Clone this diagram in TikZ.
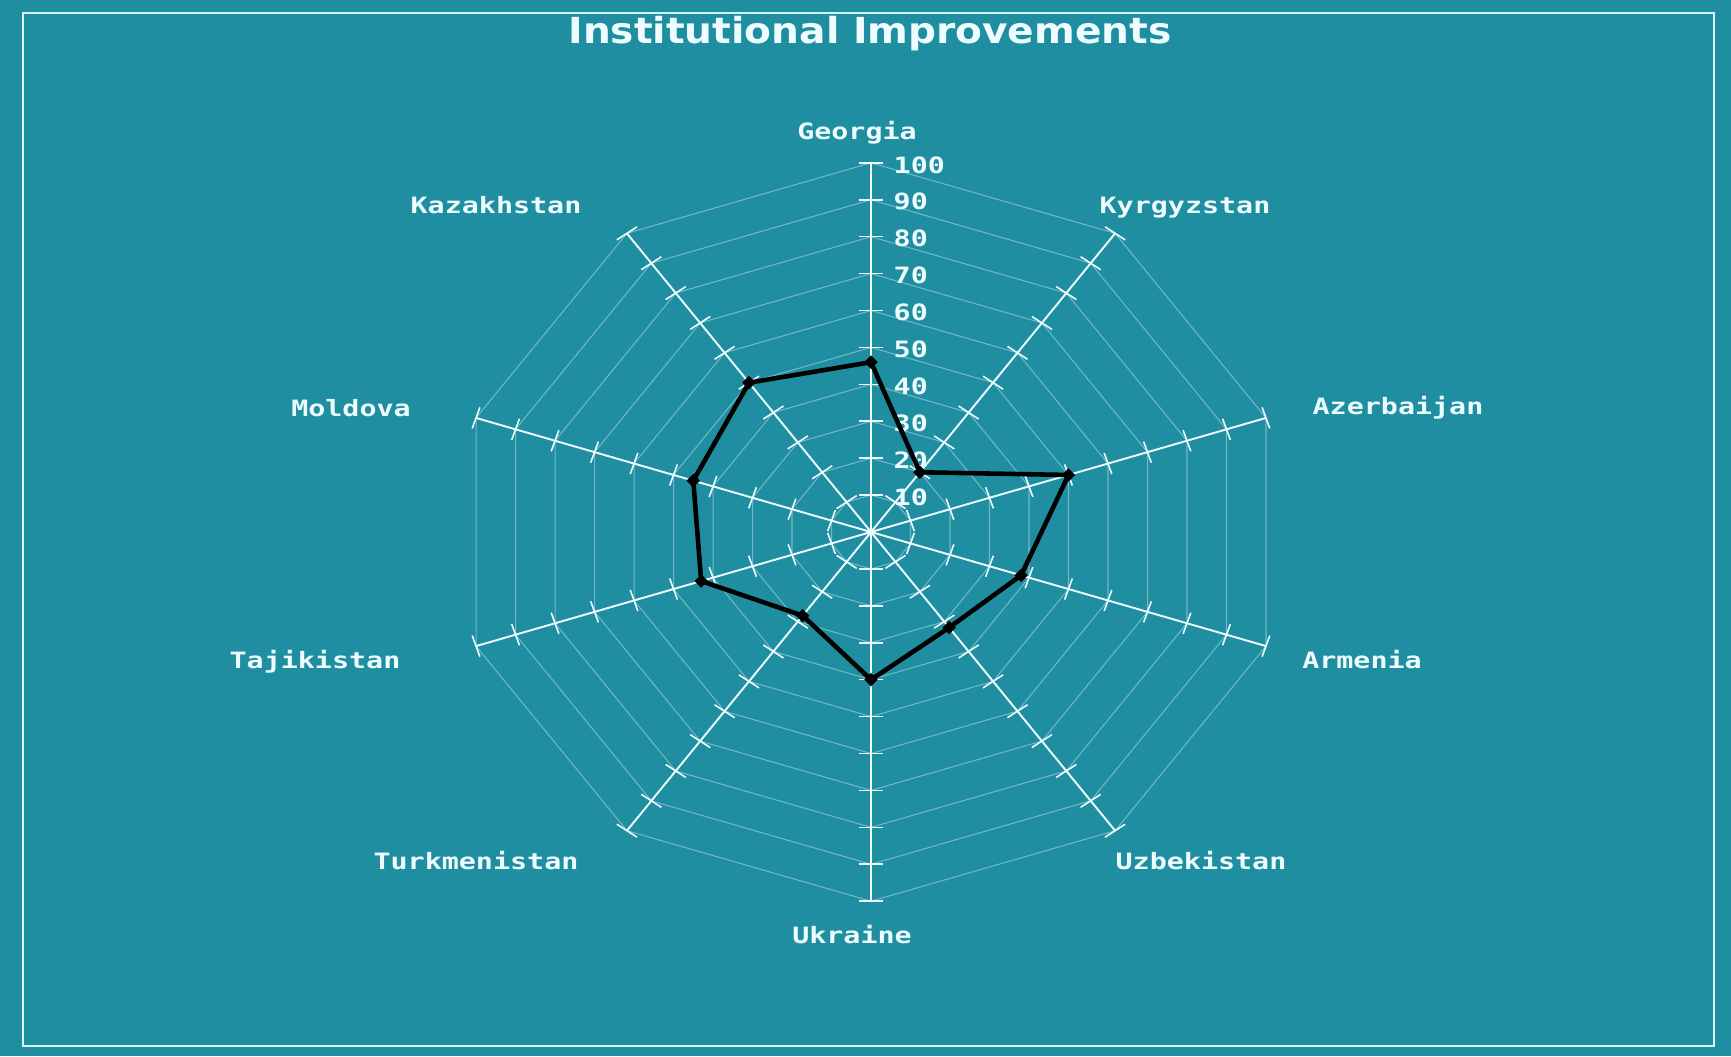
\documentclass[tikz,border=0pt]{standalone}
\usepackage{fontspec}
\usetikzlibrary{shapes.geometric}

\newfontfamily\labelfont[FakeStretch=1.26]{DejaVu Sans Mono}
\newfontfamily\titlefont[FakeStretch=1.09]{DejaVu Sans}

\definecolor{chartteal}{RGB}{32,142,161}
\definecolor{gridgrey}{RGB}{112,184,198}
\definecolor{axiswhite}{RGB}{236,252,255}
\definecolor{framewhite}{RGB}{214,245,250}

\tikzset{
  titletext/.style={text=axiswhite, font=\titlefont\fontsize{10.2}{12}\selectfont\bfseries, anchor=base, inner sep=0pt},
  country/.style={text=axiswhite, font=\labelfont\fontsize{6.4}{8}\selectfont\bfseries, anchor=base, inner sep=0pt},
  scalelabel/.style={text=axiswhite, font=\labelfont\fontsize{6.4}{8}\selectfont\bfseries, anchor=west, inner sep=0pt, xshift=0.22cm, yshift=-0.02cm},
  axisline/.style={axiswhite, line width=0.55pt},
  gridline/.style={gridgrey, line width=0.3pt},
  tickmark/.style={axiswhite, line width=0.45pt},
  dataline/.style={black, line width=1.3pt, line join=round},
  marker/.style={diamond, fill=black, inner sep=0pt, minimum size=0.14cm},
}

\begin{document}
\begin{tikzpicture}[x=0.01cm, y=0.01cm]
  \fill[chartteal] (0,0) rectangle (1731,1056);
  \draw[framewhite, line width=0.7pt] (23,10) rectangle (1714,1043);

  \node[titletext] at (870,1013) (title) {Institutional Improvements};

  \begin{scope}[shift={(871,524)}, x=0.0415cm, y=0.0369cm]
    \coordinate (O) at (0,0);

    % web
    \foreach \r in {10,20,...,100}
      \draw[gridline] (90:\r) \foreach \a in {126,162,...,414} { -- (\a:\r) } -- cycle;

    % spokes and ticks
    \foreach \a [count=\i] in {90,126,...,414} {
      \coordinate (end\i) at (\a:100);
      \draw[axisline] (O) -- (end\i);
      \foreach \r in {10,20,...,100}
        \draw[tickmark, shift={(\a:\r)}] ({\a+90}:3) -- ({\a-90}:3);
    }

    \foreach \r in {10,20,...,100}
      \node[scalelabel] (num\r) at (90:\r) {\r};

    % scores
    \foreach \a/\v/\n in {90/46/georgia, 54/20/kyrgyzstan, 18/50/azerbaijan, -18/38/armenia,
                          -54/32/uzbekistan, -90/40/ukraine, -126/28/turkmenistan,
                          -162/43/tajikistan, 162/45/moldova, 126/50/kazakhstan}
      \coordinate (\n) at (\a:\v);

    \draw[dataline] (georgia) -- (kyrgyzstan) -- (azerbaijan) -- (armenia) -- (uzbekistan)
      -- (ukraine) -- (turkmenistan) -- (tajikistan) -- (moldova) -- (kazakhstan) -- cycle;

    \foreach \n in {georgia,kyrgyzstan,azerbaijan,armenia,uzbekistan,ukraine,turkmenistan,tajikistan,moldova,kazakhstan}
      \node[marker] (m-\n) at (\n) {};
  \end{scope}

  \node[country] at ( 857, 917) (lbl-georgia)      {Georgia};
  \node[country] at (1185, 843) (lbl-kyrgyzstan)   {Kyrgyzstan};
  \node[country] at (1398, 642) (lbl-azerbaijan)   {Azerbaijan};
  \node[country] at (1362, 388) (lbl-armenia)      {Armenia};
  \node[country] at (1201, 187) (lbl-uzbekistan)   {Uzbekistan};
  \node[country] at ( 852, 113) (lbl-ukraine)      {Ukraine};
  \node[country] at ( 476, 187) (lbl-turkmenistan) {Turkmenistan};
  \node[country] at ( 315, 388) (lbl-tajikistan)   {Tajikistan};
  \node[country] at ( 351, 640) (lbl-moldova)      {Moldova};
  \node[country] at ( 496, 843) (lbl-kazakhstan)   {Kazakhstan};
\end{tikzpicture}
\end{document}
